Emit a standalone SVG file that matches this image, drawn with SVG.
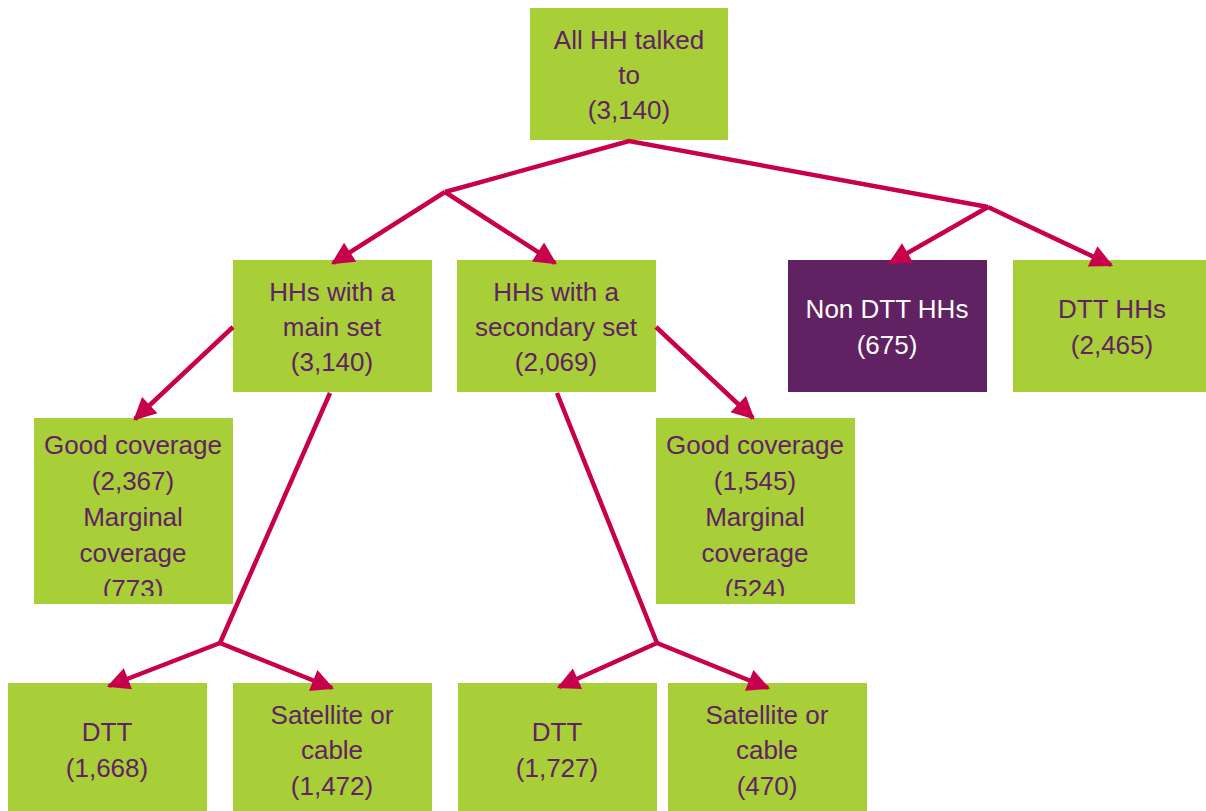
<svg xmlns="http://www.w3.org/2000/svg" width="1206" height="811" viewBox="0 0 1206 811">
<style>
.g{fill:#A8CE38}
.p{fill:#612263}
text{font-family:"Liberation Sans",Arial,sans-serif;font-size:26px;fill:#612263;text-anchor:middle}
.w{fill:#FFFFFF}
.c{fill:none;stroke:#C8004B;stroke-width:4.5}
</style>
<defs>
<marker id="ah" viewBox="0 0 10 10" refX="9" refY="5" markerWidth="5.4" markerHeight="5" orient="auto" markerUnits="strokeWidth">
<path d="M0,0 L10,5 L0,10 z" fill="#C8004B"/>
</marker>
<clipPath id="cl1"><rect x="34" y="418" width="199" height="178"/></clipPath>
<clipPath id="cl2"><rect x="656" y="418" width="199" height="178"/></clipPath>
</defs>
<rect width="1206" height="811" fill="#FFFFFF"/>
<g id="n-all"><rect class="g" x="530" y="8" width="198" height="132"/>
<text x="629" y="49">All HH talked</text><text x="629" y="84">to</text><text x="629" y="119">(3,140)</text></g>
<g id="n-main"><rect class="g" x="233" y="260" width="199" height="132"/>
<text x="332" y="301">HHs with a</text><text x="332" y="336">main set</text><text x="332" y="371">(3,140)</text></g>
<g id="n-sec"><rect class="g" x="457" y="260" width="199" height="132"/>
<text x="556" y="301">HHs with a</text><text x="556" y="336">secondary set</text><text x="556" y="371">(2,069)</text></g>
<g id="n-nondtt"><rect class="p" x="788" y="260" width="199" height="132"/>
<text class="w" x="887" y="318">Non DTT HHs</text><text class="w" x="887" y="354">(675)</text></g>
<g id="n-dtthh"><rect class="g" x="1013" y="260" width="193" height="132"/>
<text x="1112" y="318">DTT HHs</text><text x="1112" y="354">(2,465)</text></g>
<g id="n-cov1"><rect class="g" x="34" y="418" width="199" height="186"/>
<g clip-path="url(#cl1)"><text x="133" y="454">Good coverage</text><text x="133" y="490">(2,367)</text><text x="133" y="526">Marginal</text><text x="133" y="562">coverage</text><text x="133" y="598">(773)</text></g></g>
<g id="n-cov2"><rect class="g" x="656" y="418" width="199" height="186"/>
<g clip-path="url(#cl2)"><text x="755" y="454">Good coverage</text><text x="755" y="490">(1,545)</text><text x="755" y="526">Marginal</text><text x="755" y="562">coverage</text><text x="755" y="598">(524)</text></g></g>
<g id="n-dtt1"><rect class="g" x="8" y="683" width="199" height="128"/>
<text x="107" y="741">DTT</text><text x="107" y="777">(1,668)</text></g>
<g id="n-sat1"><rect class="g" x="233" y="683" width="199" height="128"/>
<text x="332" y="724">Satellite or</text><text x="332" y="759">cable</text><text x="332" y="795">(1,472)</text></g>
<g id="n-dtt2"><rect class="g" x="458" y="683" width="199" height="128"/>
<text x="557" y="741">DTT</text><text x="557" y="777">(1,727)</text></g>
<g id="n-sat2"><rect class="g" x="668" y="683" width="199" height="128"/>
<text x="767" y="724">Satellite or</text><text x="767" y="759">cable</text><text x="767" y="795">(470)</text></g>
<g id="connectors">
<polyline class="c" points="445,192 629,141 988,207"/>
<line class="c" x1="445" y1="192" x2="333" y2="263" marker-end="url(#ah)"/>
<line class="c" x1="445" y1="192" x2="555" y2="263" marker-end="url(#ah)"/>
<line class="c" x1="988" y1="207" x2="890" y2="263" marker-end="url(#ah)"/>
<line class="c" x1="988" y1="207" x2="1111" y2="265" marker-end="url(#ah)"/>
<line class="c" x1="233" y1="327" x2="135" y2="419" marker-end="url(#ah)"/>
<line class="c" x1="656" y1="327" x2="753" y2="418" marker-end="url(#ah)"/>
<line class="c" x1="330" y1="393" x2="220" y2="643"/>
<line class="c" x1="220" y1="643" x2="109" y2="686" marker-end="url(#ah)"/>
<line class="c" x1="220" y1="643" x2="332" y2="688" marker-end="url(#ah)"/>
<line class="c" x1="557" y1="393" x2="657" y2="643"/>
<line class="c" x1="657" y1="643" x2="559" y2="687" marker-end="url(#ah)"/>
<line class="c" x1="657" y1="643" x2="768" y2="688" marker-end="url(#ah)"/>
</g>
</svg>
